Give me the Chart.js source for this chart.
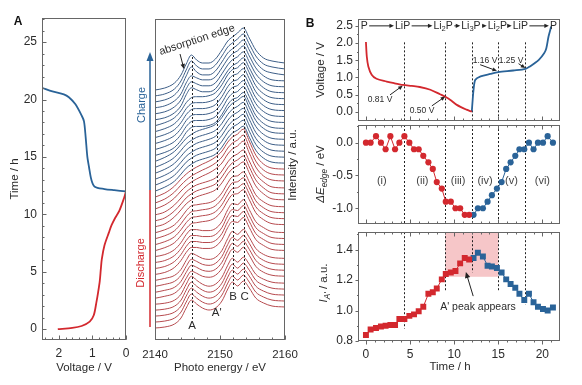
<!DOCTYPE html>
<html>
<head>
<meta charset="utf-8">
<script src="https://cdn.jsdelivr.net/npm/chart.js@4.4.1/dist/chart.umd.min.js"></script>
<style>
  html, body { margin: 0; padding: 0; background: #fff; }
  #wrap { position: relative; width: 582px; height: 385px; overflow: hidden; }
  canvas { position: absolute; }
</style>
</head>
<body>
<div id="wrap">
  <canvas id="cvA1" width="130" height="385" style="left:0;top:0"></canvas>
  <canvas id="cvA2" width="170" height="385" style="left:130px;top:0"></canvas>
  <canvas id="cvB1" width="282" height="121" style="left:300px;top:0"></canvas>
  <canvas id="cvB2" width="282" height="107" style="left:300px;top:121px"></canvas>
  <canvas id="cvB3" width="282" height="157" style="left:300px;top:228px"></canvas>
</div>
<script>
// ---- galvanostatic curve (shared by panel A left and panel B top)
const dischargeTime    = [0.0, 0.1, 0.27, 0.65, 1.2, 2.35, 3.2, 4.2, 5.2, 6.1, 7.3, 8.4, 9.05, 9.7, 10.3, 11.4, 12.0]
const dischargeVoltage = [2.03, 1.60, 1.32, 1.08, 0.96, 0.88, 0.83, 0.78, 0.75, 0.72, 0.64, 0.51, 0.43, 0.32, 0.20, 0.06, 0.0]
const chargeTime    = [12.0, 12.1, 12.2, 12.4, 13.0, 14.1, 15.0, 16.7, 18.1, 18.6, 19.6, 20.2, 20.45, 20.7, 21.0]
const chargeVoltage = [0.0, 0.35, 0.64, 0.93, 1.03, 1.10, 1.15, 1.20, 1.25, 1.32, 1.51, 1.70, 1.85, 2.19, 2.48]

// ---- XANES scans (one spectrum per scan, times shared by panel B middle/bottom)
const scanTimeDischarge = [0, 0.53, 1.14, 1.70, 2.23, 2.77, 3.30, 3.79, 4.36, 4.92, 5.45, 5.98, 6.5, 7.08, 7.58, 8.03, 8.6, 9.05, 9.62, 10.15, 10.68, 11.2, 11.7]
const scanTimeCharge = [12.2, 12.69, 13.26, 13.79, 14.28, 14.85, 15.38, 15.9, 16.4, 16.93, 17.4, 17.95, 18.48, 19.0, 19.5, 20.07, 20.6, 21.2]
const edgeShiftDischarge = [0, 0, 0.1, 0, -0.1, 0.1, -0.1, 0, 0.1, 0, -0.1, -0.1, -0.2, -0.3, -0.4, -0.6, -0.7, -0.9, -0.9, -1.0, -1.0, -1.1, -1.1]
const edgeShiftCharge = [-1.1, -1.0, -1.0, -0.9, -0.8, -0.7, -0.6, -0.4, -0.3, -0.2, -0.1, -0.1, 0, -0.1, 0, 0, 0.1, 0]
const peakADischarge = [0.84, 0.875, 0.885, 0.895, 0.90, 0.905, 0.905, 0.945, 0.945, 0.965, 0.975, 0.995, 1.025, 1.11, 1.12, 1.145, 1.205, 1.24, 1.25, 1.26, 1.31, 1.345, 1.335]
const peakACharge = [1.345, 1.38, 1.355, 1.295, 1.29, 1.28, 1.25, 1.205, 1.175, 1.15, 1.11, 1.07, 1.11, 1.055, 1.025, 1.01, 1.0, 1.02]

// spectrum profiles (intensity above each trace's baseline, a.u.)
const specEnergy = [2140, 2141.5, 2143, 2144, 2144.8, 2145.6, 2146.4, 2147.3, 2148.3, 2149.3, 2150.3, 2151.2, 2151.9, 2152.7, 2153.6, 2154.5, 2155.5, 2156.7, 2158, 2160]
const dischargeProfiles = [
  [0, 1, 4, 10, 20, 28, 24, 20, 18, 20, 27, 39, 46, 42, 47, 40, 30, 25, 22, 21],
  [0, 2, 5, 11, 20, 27, 25, 22, 21, 23, 30, 42, 49, 46, 51, 43, 32, 26, 23, 22],
  [0, 2, 7, 14, 22, 27, 27, 26, 26, 28, 35, 47, 53, 52, 57, 47, 35, 29, 25, 24],
  [0, 3, 8, 15, 22, 27, 28, 29, 30, 33, 40, 50, 56, 57, 61, 51, 38, 31, 27, 26],
  [0, 3, 10, 17, 23, 27, 30, 32, 34, 37, 44, 53, 58, 61, 65, 54, 41, 33, 28, 27],
  [0, 4, 11, 18, 23, 27, 30, 33, 36, 40, 46, 55, 60, 63, 68, 56, 42, 33, 29, 28]
]
const chargeProfiles = [
  [0, 4, 10, 17, 23, 27, 30, 32, 34, 37, 44, 53, 58, 61, 65, 54, 41, 33, 29, 28],
  [0, 3, 8, 15, 23, 28, 29, 29, 30, 33, 41, 51, 56, 58, 63, 53, 40, 32, 28, 27],
  [0, 2, 7, 14, 25, 32, 30, 28, 28, 31, 40, 49, 54, 57, 62, 52, 40, 32, 28, 27],
  [0, 2, 7, 15, 26, 35, 30, 27, 27, 31, 40, 49, 53, 57, 62, 52, 40, 32, 29, 27]
]
const dischargeProfileOfScan = [0, 0, 0, 0, 0, 1, 1, 1, 1, 2, 2, 2, 2, 3, 3, 3, 3, 4, 4, 4, 5, 5, 5]
const chargeProfileOfScan = [0, 0, 0, 0, 0, 0, 1, 1, 1, 1, 1, 1, 2, 2, 2, 3, 3, 3]

// ---- annotations
const phaseTimes = [4.3, 9.0, 12.0, 15.0, 18.0]
const peakALineEnds = [0.88, 1.13, 1.25, 1.13, 1.04]
const phaseNames = ['P', 'LiP', 'Li2P', 'Li3P', 'Li2P', 'LiP', 'P']
const phaseNameTimes = [-0.2, 4.15, 8.75, 11.9, 14.9, 17.5, 21.25]
const plateauLabels = ['0.81 V', '0.50 V', '1.16 V', '1.25 V']
const plateauLabelAt = [[1.6, 0.35], [6.36, 0.04], [13.5, 1.48], [16.45, 1.48]]
const plateauArrowFrom = [[2.73, 0.49], [7.47, 0.17], [12.95, 1.37], [17.3, 1.40]]
const plateauArrowTo = [[4.17, 0.76], [8.98, 0.44], [14.85, 1.19], [18.07, 1.27]]
const regionLabels = ['(i)', '(ii)', '(iii)', '(iv)', '(v)', '(vi)']
const regionLabelTimes = [1.8, 6.4, 10.45, 13.5, 16.5, 20.0]
const featureLabels = ['A', "A'", 'B', 'C']
const featureEnergy = [2145.7, 2149.5, 2152.0, 2153.8]

const FONT = "'Liberation Sans', Arial, Helvetica, sans-serif"
const RED = '#d3282e'
const BLUE = '#2a6398'
const SPEC_RED = '#b64a4e'
const SPEC_BLUE = '#3d5e87'
const FRAME = '#666'
const INK = '#2b2b2b'
const STACK = 5.95

Chart.defaults.font.family = FONT
Chart.defaults.font.size = 12
Chart.defaults.color = INK

function steps(from, to, step) {
  const out = []
  for (let v = from; v <= to + 1e-9; v += step) out.push(Math.round(v * 1000) / 1000)
  return out
}
const fixW = w => s => { s.width = w; s.paddingTop = 0; s.paddingBottom = 0; s.paddingLeft = 0; s.paddingRight = 0 }
const fixH = h => s => { s.height = h; s.paddingTop = 0; s.paddingBottom = 0; s.paddingLeft = 0; s.paddingRight = 0 }
const setTicks = vals => s => { s.ticks = vals.map(v => ({ value: v })) }

function baseOptions(padding) {
  return {
    responsive: false,
    animation: false,
    events: [],
    layout: { padding },
    plugins: { legend: { display: false }, tooltip: { enabled: false } }
  }
}

function frameAndTicks(chart, marks) {
  const { ctx, chartArea: a } = chart
  ctx.strokeStyle = FRAME
  ctx.lineWidth = 1
  ctx.strokeRect(Math.round(a.left) + 0.5, Math.round(a.top) + 0.5,
    Math.round(a.right - a.left) - 1, Math.round(a.bottom - a.top) - 1)
  ctx.beginPath()
  marks.forEach(m => {
    const sc = chart.scales[m.scale]
    const lo = Math.min(sc.min, sc.max), hi = Math.max(sc.min, sc.max)
    m.values.forEach(v => {
      if (v < lo || v > hi) return
      const p = Math.round(sc.getPixelForValue(v)) + 0.5
      const inS = m.dir === 'out' ? 0 : m.len
      const outS = m.dir === 'in' ? 0 : m.len
      if (m.edge === 'bottom') {
        const e = Math.round(a.bottom) - 0.5
        ctx.moveTo(p, e - inS); ctx.lineTo(p, e + outS)
      } else if (m.edge === 'top') {
        const e = Math.round(a.top) + 0.5
        ctx.moveTo(p, e + inS); ctx.lineTo(p, e - outS)
      } else {
        const e = Math.round(a.left) + 0.5
        ctx.moveTo(e + inS, p); ctx.lineTo(e - outS, p)
      }
    })
  })
  ctx.stroke()
}

// text with subscripts: parts = [{t, sub, it}]
function rich(ctx, parts, x, y, size, align, color) {
  ctx.fillStyle = color || INK
  ctx.textBaseline = 'middle'
  ctx.textAlign = 'left'
  const fontOf = p => (p.it ? 'italic ' : '') + (p.sub ? size * 0.72 : size) + 'px ' + FONT
  const widths = parts.map(p => { ctx.font = fontOf(p); return ctx.measureText(p.t).width })
  const total = widths.reduce((s, w) => s + w, 0)
  let cx = align === 'center' ? x - total / 2 : align === 'right' ? x - total : x
  parts.forEach((p, i) => {
    ctx.font = fontOf(p)
    ctx.fillText(p.t, cx, y + (p.sub ? size * 0.3 : 0))
    cx += widths[i]
  })
  return total
}
function chem(name) {
  return name.split(/(\d)/).filter(s => s).map(s => /\d/.test(s) ? { t: s, sub: true } : { t: s })
}
function vtitle(ctx, parts, x, y, size, color) {
  ctx.save()
  ctx.translate(x, y)
  ctx.rotate(-Math.PI / 2)
  rich(ctx, parts, 0, 0, size, 'center', color)
  ctx.restore()
}
function arrow(ctx, x0, y0, x1, y1, color, head) {
  const h = head || 5
  const ang = Math.atan2(y1 - y0, x1 - x0)
  ctx.strokeStyle = color
  ctx.fillStyle = color
  ctx.lineWidth = 1
  ctx.beginPath()
  ctx.moveTo(x0, y0)
  ctx.lineTo(x1 - Math.cos(ang) * h * 0.8, y1 - Math.sin(ang) * h * 0.8)
  ctx.stroke()
  ctx.beginPath()
  ctx.moveTo(x1, y1)
  ctx.lineTo(x1 - h * Math.cos(ang) + h * 0.45 * Math.sin(ang), y1 - h * Math.sin(ang) - h * 0.45 * Math.cos(ang))
  ctx.lineTo(x1 - h * Math.cos(ang) - h * 0.45 * Math.sin(ang), y1 - h * Math.sin(ang) + h * 0.45 * Math.cos(ang))
  ctx.closePath()
  ctx.fill()
}
function dotted(ctx, x, y0, y1) {
  ctx.save()
  ctx.strokeStyle = '#222'
  ctx.lineWidth = 1
  ctx.setLineDash([2, 2])
  ctx.beginPath()
  ctx.moveTo(Math.round(x) + 0.5, y0)
  ctx.lineTo(Math.round(x) + 0.5, y1)
  ctx.stroke()
  ctx.restore()
}
function decor(draw, under) {
  return {
    id: 'decor',
    beforeDatasetsDraw(chart) {
      if (!under) return
      chart.ctx.save(); under(chart); chart.ctx.restore()
    },
    afterDraw(chart) {
      chart.ctx.save(); draw(chart); chart.ctx.restore()
    }
  }
}
const pts = (xs, ys) => xs.map((x, i) => ({ x, y: ys[i] }))

// ================= Panel A, left: time vs voltage =================
new Chart(document.getElementById('cvA1'), {
  type: 'line',
  data: {
    datasets: [
      { data: pts(dischargeVoltage, dischargeTime), borderColor: RED, borderWidth: 1.8, pointRadius: 0, tension: 0.3 },
      { data: pts(chargeVoltage, chargeTime), borderColor: BLUE, borderWidth: 1.8, pointRadius: 0, tension: 0.3 }
    ]
  },
  options: {
    ...baseOptions({ top: 18, right: 4, bottom: 0, left: 0 }),
    scales: {
      x: {
        type: 'linear', reverse: true, min: 0, max: 2.5,
        grid: { display: false, drawTicks: false }, border: { display: false },
        ticks: { padding: 6, callback: v => String(v) },
        afterBuildTicks: setTicks([0, 1, 2]), afterFit: fixH(45),
        title: { display: true, text: 'Voltage / V', font: { size: 11.5 }, padding: { top: 0, bottom: 10 } }
      },
      y: {
        type: 'linear', min: -0.95, max: 27.1,
        grid: { display: false, drawTicks: false }, border: { display: false },
        ticks: { padding: 5, callback: v => String(v) },
        afterBuildTicks: setTicks([0, 5, 10, 15, 20, 25]), afterFit: fixW(42),
        title: { display: true, text: 'Time / h', font: { size: 11.5 }, padding: { top: 8, bottom: 0 } }
      }
    }
  },
  plugins: [decor(chart => {
    frameAndTicks(chart, [
      { scale: 'y', edge: 'left', dir: 'in', len: 4, values: steps(0, 25, 5) },
      { scale: 'y', edge: 'left', dir: 'in', len: 2, values: steps(0, 27, 1) },
      { scale: 'x', edge: 'bottom', dir: 'in', len: 4, values: [0, 1, 2] },
      { scale: 'x', edge: 'bottom', dir: 'in', len: 2, values: steps(0, 2.4, 0.2) }
    ])
    const ctx = chart.ctx
    ctx.font = 'bold 12px ' + FONT
    ctx.fillStyle = '#111'
    ctx.textAlign = 'center'
    ctx.textBaseline = 'middle'
    ctx.fillText('A', 18, 22)
  })]
})

// ================= Panel A, right: stacked XANES spectra =================
const specSets = []
scanTimeDischarge.forEach((t, i) => {
  specSets.push({ prof: dischargeProfiles[dischargeProfileOfScan[i]], color: SPEC_RED })
})
scanTimeCharge.forEach((t, i) => {
  specSets.push({ prof: chargeProfiles[chargeProfileOfScan[i]], color: SPEC_BLUE })
})

new Chart(document.getElementById('cvA2'), {
  type: 'line',
  data: {
    datasets: specSets.map((s, k) => ({
      data: pts(specEnergy, s.prof.map(v => v + k * STACK)),
      borderColor: s.color, borderWidth: 1, pointRadius: 0,
      cubicInterpolationMode: 'monotone'
    }))
  },
  options: {
    ...baseOptions({ top: 19, right: 15, bottom: 0, left: 25 }),
    scales: {
      x: {
        type: 'linear', min: 2140, max: 2160,
        grid: { display: false, drawTicks: false }, border: { display: false },
        ticks: { padding: 8, font: { size: 11.5 }, callback: v => String(v) },
        afterBuildTicks: setTicks([2140, 2150, 2160]), afterFit: fixH(45),
        title: { display: true, text: 'Photo energy / eV', font: { size: 11.5 }, padding: { top: 0, bottom: 10 } }
      },
      y: { type: 'linear', min: -12, max: 309, display: false }
    }
  },
  plugins: [decor(chart => {
    const ctx = chart.ctx
    const sx = chart.scales.x, sy = chart.scales.y
    frameAndTicks(chart, [
      { scale: 'x', edge: 'bottom', dir: 'in', len: 4, values: [2140, 2150, 2160] },
      { scale: 'x', edge: 'bottom', dir: 'in', len: 2, values: steps(2140, 2160, 2) }
    ])
    // feature markers
    dotted(ctx, sx.getPixelForValue(2145.7), sy.getPixelForValue(271), sy.getPixelForValue(8))
    dotted(ctx, sx.getPixelForValue(2149.5), sy.getPixelForValue(228), sy.getPixelForValue(136))
    dotted(ctx, sx.getPixelForValue(2151.95), sy.getPixelForValue(293), sy.getPixelForValue(38))
    dotted(ctx, sx.getPixelForValue(2153.7), sy.getPixelForValue(301), sy.getPixelForValue(38))
    const labelLevel = [2, 15, 31, 31]
    featureLabels.forEach((t, i) => {
      rich(ctx, [{ t }], sx.getPixelForValue(featureEnergy[i]), sy.getPixelForValue(labelLevel[i]), 11.5, 'center')
    })
    // absorption edge note
    ctx.save()
    ctx.translate(sx.getPixelForValue(2146.46), sy.getPixelForValue(288))
    ctx.rotate(-18 * Math.PI / 180)
    rich(ctx, [{ t: 'absorption edge' }], 0, 0, 11, 'center')
    ctx.restore()
    arrow(ctx, sx.getPixelForValue(2143.85), sy.getPixelForValue(274),
      sx.getPixelForValue(2144.46), sy.getPixelForValue(259), '#222', 5)
    // charge / discharge arrow on the left
    ctx.lineWidth = 1.5
    ctx.strokeStyle = RED
    ctx.beginPath(); ctx.moveTo(20, 327); ctx.lineTo(20, 190); ctx.stroke()
    ctx.strokeStyle = BLUE
    ctx.beginPath(); ctx.moveTo(20, 190); ctx.lineTo(20, 60); ctx.stroke()
    ctx.fillStyle = BLUE
    ctx.beginPath(); ctx.moveTo(20, 52); ctx.lineTo(16.5, 61); ctx.lineTo(23.5, 61); ctx.closePath(); ctx.fill()
    vtitle(ctx, [{ t: 'Charge' }], 11.5, 105, 11, BLUE)
    vtitle(ctx, [{ t: 'Discharge' }], 11, 263, 11, RED)
    vtitle(ctx, [{ t: 'Intensity / a.u.' }], 162.5, 165, 11.5)
  })]
})

// ================= Panel B, shared x =================
const timeScale = {
  type: 'linear', min: -0.9, max: 22,
  grid: { display: false, drawTicks: false }, border: { display: false }
}
const yBase = (min, max, ticks, w) => ({
  type: 'linear', min, max,
  grid: { display: false, drawTicks: false }, border: { display: false },
  ticks: { padding: 5, callback: v => v.toFixed(1) },
  afterBuildTicks: setTicks(ticks), afterFit: fixW(w)
})
const hourMajor = [0, 5, 10, 15, 20]
const hourMinor = steps(0, 21, 1)

// ---- B top: voltage profile
new Chart(document.getElementById('cvB1'), {
  type: 'line',
  data: {
    datasets: [
      { data: pts(dischargeTime, dischargeVoltage), borderColor: RED, borderWidth: 1.8, pointRadius: 0, tension: 0.3 },
      { data: pts(chargeTime, chargeVoltage), borderColor: BLUE, borderWidth: 1.8, pointRadius: 0, tension: 0.3 }
    ]
  },
  options: {
    ...baseOptions({ top: 19, right: 22, bottom: 0, left: 0 }),
    scales: {
      x: { ...timeScale, display: false },
      y: yBase(-0.27, 2.7, [0, 0.5, 1.0, 1.5, 2.0, 2.5], 58)
    }
  },
  plugins: [decor(chart => {
    const ctx = chart.ctx
    const sx = chart.scales.x, sy = chart.scales.y
    frameAndTicks(chart, [
      { scale: 'y', edge: 'left', dir: 'out', len: 3, values: steps(0, 2.5, 0.5) },
      { scale: 'y', edge: 'left', dir: 'out', len: 1.5, values: steps(0, 2.5, 0.25) },
      { scale: 'x', edge: 'bottom', dir: 'in', len: 4, values: hourMajor },
      { scale: 'x', edge: 'bottom', dir: 'in', len: 2, values: hourMinor }
    ])
    // phase sequence row
    const rowY = sy.getPixelForValue(2.5)
    const ext = phaseNames.map((n, i) => {
      const cx = sx.getPixelForValue(phaseNameTimes[i])
      const w = rich(ctx, chem(n), cx, rowY, 10.5, 'center')
      return [cx - w / 2, cx + w / 2]
    })
    for (let i = 0; i < ext.length - 1; i++) {
      arrow(ctx, ext[i][1] + 1.5, rowY, ext[i + 1][0] - 1, rowY, '#222', 4.5)
    }
    plateauLabels.forEach((t, i) => {
      arrow(ctx, sx.getPixelForValue(plateauArrowFrom[i][0]), sy.getPixelForValue(plateauArrowFrom[i][1]),
        sx.getPixelForValue(plateauArrowTo[i][0]), sy.getPixelForValue(plateauArrowTo[i][1]), '#222', 4.5)
      rich(ctx, [{ t }], sx.getPixelForValue(plateauLabelAt[i][0]), sy.getPixelForValue(plateauLabelAt[i][1]), 8.5, 'center')
    })
    ctx.font = 'bold 12px ' + FONT
    ctx.fillStyle = '#111'
    ctx.textAlign = 'center'
    ctx.textBaseline = 'middle'
    ctx.fillText('B', 10, 24)
    vtitle(ctx, [{ t: 'Voltage / V' }], 21, 70, 11.5)
  }, chart => {
    const sx = chart.scales.x, sy = chart.scales.y
    phaseTimes.forEach(t => dotted(chart.ctx, sx.getPixelForValue(t), sy.getPixelForValue(2.02), chart.chartArea.bottom))
  })]
})

// ---- B middle: edge shift
new Chart(document.getElementById('cvB2'), {
  type: 'line',
  data: {
    datasets: [
      { data: pts(scanTimeDischarge, edgeShiftDischarge), borderColor: RED, borderWidth: 1, pointRadius: 3.1,
        pointBackgroundColor: RED, pointBorderWidth: 0, tension: 0 },
      { data: pts(scanTimeCharge, edgeShiftCharge), borderColor: BLUE, borderWidth: 1, pointRadius: 3.1,
        pointBackgroundColor: BLUE, pointBorderWidth: 0, tension: 0 }
    ]
  },
  options: {
    ...baseOptions({ top: 0, right: 22, bottom: 0, left: 0 }),
    scales: {
      x: { ...timeScale, display: false },
      y: yBase(-1.24, 0.27, [-1.0, -0.5, 0.0], 58)
    }
  },
  plugins: [decor(chart => {
    const ctx = chart.ctx
    const sx = chart.scales.x, sy = chart.scales.y
    frameAndTicks(chart, [
      { scale: 'y', edge: 'left', dir: 'out', len: 3, values: [-1, -0.5, 0] },
      { scale: 'y', edge: 'left', dir: 'out', len: 1.5, values: steps(-1.25, 0.25, 0.25) },
      { scale: 'x', edge: 'top', dir: 'in', len: 4, values: hourMajor },
      { scale: 'x', edge: 'top', dir: 'in', len: 2, values: hourMinor },
      { scale: 'x', edge: 'bottom', dir: 'in', len: 4, values: hourMajor },
      { scale: 'x', edge: 'bottom', dir: 'in', len: 2, values: hourMinor }
    ])
    regionLabels.forEach((t, i) => {
      rich(ctx, [{ t }], sx.getPixelForValue(regionLabelTimes[i]), sy.getPixelForValue(-0.58), 11, 'center', '#444')
    })
    vtitle(ctx, [{ t: 'ΔE', it: true }, { t: 'edge', sub: true, it: true }, { t: ' / eV' }], 21, 53, 11.5)
  }, chart => {
    const sx = chart.scales.x
    phaseTimes.forEach(t => dotted(chart.ctx, sx.getPixelForValue(t), chart.chartArea.top, chart.chartArea.bottom))
  })]
})

// ---- B bottom: A' peak intensity
new Chart(document.getElementById('cvB3'), {
  type: 'line',
  data: {
    datasets: [
      { data: pts(scanTimeDischarge, peakADischarge), borderColor: RED, borderWidth: 1, pointStyle: 'rect', pointRadius: 4.2,
        pointBackgroundColor: RED, pointBorderWidth: 0, tension: 0 },
      { data: pts(scanTimeCharge, peakACharge), borderColor: BLUE, borderWidth: 1, pointStyle: 'rect', pointRadius: 4.2,
        pointBackgroundColor: BLUE, pointBorderWidth: 0, tension: 0 }
    ]
  },
  options: {
    ...baseOptions({ top: 0, right: 22, bottom: 0, left: 0 }),
    scales: {
      x: {
        ...timeScale,
        ticks: { padding: 6, callback: v => String(v) },
        afterBuildTicks: setTicks(hourMajor), afterFit: fixH(44)
      },
      y: yBase(0.8, 1.515, [0.8, 1.0, 1.2, 1.4], 58)
    }
  },
  plugins: [decor(chart => {
    const ctx = chart.ctx
    const sx = chart.scales.x, sy = chart.scales.y
    frameAndTicks(chart, [
      { scale: 'y', edge: 'left', dir: 'out', len: 3, values: [0.8, 1.0, 1.2, 1.4] },
      { scale: 'y', edge: 'left', dir: 'out', len: 1.5, values: steps(0.8, 1.5, 0.1) },
      { scale: 'x', edge: 'top', dir: 'in', len: 4, values: hourMajor },
      { scale: 'x', edge: 'top', dir: 'in', len: 2, values: hourMinor },
      { scale: 'x', edge: 'bottom', dir: 'out', len: 4, values: hourMajor },
      { scale: 'x', edge: 'bottom', dir: 'out', len: 2, values: hourMinor }
    ])
    arrow(ctx, sx.getPixelForValue(12.16), sy.getPixelForValue(1.095),
      sx.getPixelForValue(11.33), sy.getPixelForValue(1.254), '#222', 6)
    rich(ctx, [{ t: "A' peak appears" }], sx.getPixelForValue(12.7), sy.getPixelForValue(1.025), 10.5, 'center')
    vtitle(ctx, [{ t: 'I', it: true }, { t: "A'", sub: true, it: true }, { t: ' / a.u.' }], 24, 55, 11.5)
    rich(ctx, [{ t: 'Time / h' }], 150, 139, 11.5, 'center')
  }, chart => {
    const ctx = chart.ctx
    const sx = chart.scales.x, sy = chart.scales.y, a = chart.chartArea
    const x0 = sx.getPixelForValue(9), x1 = sx.getPixelForValue(15)
    ctx.fillStyle = '#f6c6c8'
    ctx.fillRect(x0, a.top, x1 - x0, sy.getPixelForValue(1.222) - a.top)
    phaseTimes.forEach((t, i) => dotted(ctx, sx.getPixelForValue(t), a.top, sy.getPixelForValue(peakALineEnds[i])))
  })]
})
</script>
</body>
</html>
